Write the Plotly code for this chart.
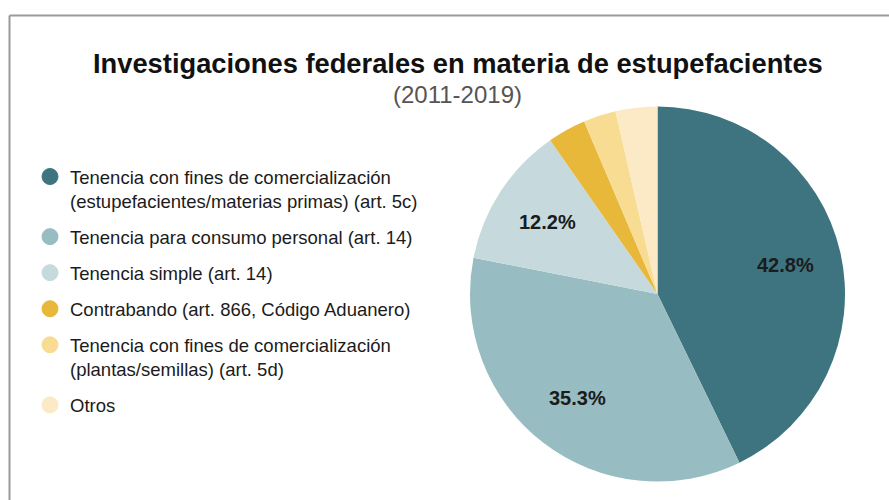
import plotly.graph_objects as go
import math

# ---- data ----
categories = [
    "Tenencia con fines de comercialización<br>(estupefacientes/materias primas) (art. 5c)",
    "Tenencia para consumo personal (art. 14)",
    "Tenencia simple (art. 14)",
    "Contrabando (art. 866, Código Aduanero)",
    "Tenencia con fines de comercialización<br>(plantas/semillas) (art. 5d)",
    "Otros",
]
values = [42.8, 35.3, 12.2, 3.3, 2.8, 3.6]
shown_labels = ["42.8%", "35.3%", "12.2%", "", "", ""]
colors = ["#3e7480", "#97bcc2", "#c6dadd", "#e8b83b", "#f8dc92", "#fce9c6"]

title_text = "Investigaciones federales en materia de estupefacientes"
subtitle_text = "(2011-2019)"

# ---- layout constants (pixels) ----
W, H = 889, 500
CX, CY, R = 657.5, 294.0, 187.5
FONT = "Liberation Sans, Arial, sans-serif"

fig = go.Figure()

fig.add_trace(go.Pie(
    values=values,
    labels=categories,
    sort=False,
    direction="clockwise",
    rotation=0,
    marker=dict(colors=colors, line=dict(width=0)),
    textinfo="none",
    hoverinfo="label+percent",
    showlegend=False,
    domain=dict(x=[(CX - R) / W, (CX + R) / W],
                y=[(H - CY - R) / H, (H - CY + R) / H]),
))

# legend entries (circle markers)
for i, (cat, col) in enumerate(zip(categories, colors)):
    fig.add_trace(go.Scatter(
        x=[None], y=[None], mode="markers", name=cat,
        legendgroup=f"g{i}",
        marker=dict(size=16, color=col, symbol="circle",
                    line=dict(width=1, color=col)),
        hoverinfo="skip",
    ))

# percentage labels placed at 70% radius on each slice's mid angle
total = sum(values)
cum = 0.0
annotations = []
for v, lab in zip(values, shown_labels):
    mid = (cum + v / 2) / total * 2 * math.pi
    cum += v
    if not lab:
        continue
    px = CX + 0.7 * R * math.sin(mid)
    py = CY - 0.7 * R * math.cos(mid)
    annotations.append(dict(
        x=px / W, y=1 - py / H, xref="paper", yref="paper",
        text=f"<b>{lab}</b>", showarrow=False,
        font=dict(family=FONT, size=20, color="#1b1b1b"),
        xanchor="center", yanchor="middle",
    ))

annotations.append(dict(
    x=458 / W, y=1 - 63 / H, xref="paper", yref="paper",
    text=f"<b>{title_text}</b>", showarrow=False,
    font=dict(family=FONT, size=27.3, color="#111111"),
    xanchor="center", yanchor="middle",
))
annotations.append(dict(
    x=457 / W, y=1 - 95 / H, xref="paper", yref="paper",
    text=subtitle_text, showarrow=False,
    font=dict(family=FONT, size=24, color="#555555"),
    xanchor="center", yanchor="middle",
))

shapes = [
    dict(type="line", xref="paper", yref="paper",
         x0=9.5 / W, x1=1, y0=1 - 15.5 / H, y1=1 - 15.5 / H,
         line=dict(color="#9a9a9a", width=2)),
    dict(type="line", xref="paper", yref="paper",
         x0=9.5 / W, x1=9.5 / W, y0=1 - 15.5 / H, y1=0,
         line=dict(color="#9a9a9a", width=2)),
]

fig.update_layout(
    width=W, height=H,
    margin=dict(l=0, r=0, t=0, b=0),
    paper_bgcolor="white", plot_bgcolor="white",
    font=dict(family=FONT, color="#1b1b1b"),
    xaxis=dict(visible=False), yaxis=dict(visible=False),
    showlegend=True,
    legend=dict(
        x=30 / W, y=1 - 158 / H, xanchor="left", yanchor="top",
        font=dict(family=FONT, size=18.5, color="#1b1b1b"),
        valign="top", tracegroupgap=9,
        bgcolor="rgba(0,0,0,0)", itemclick=False, itemdoubleclick=False,
    ),
    annotations=annotations,
    shapes=shapes,
)

fig.write_html("out.html", config={"displayModeBar": False},
               post_script="document.body.style.margin='0';")
